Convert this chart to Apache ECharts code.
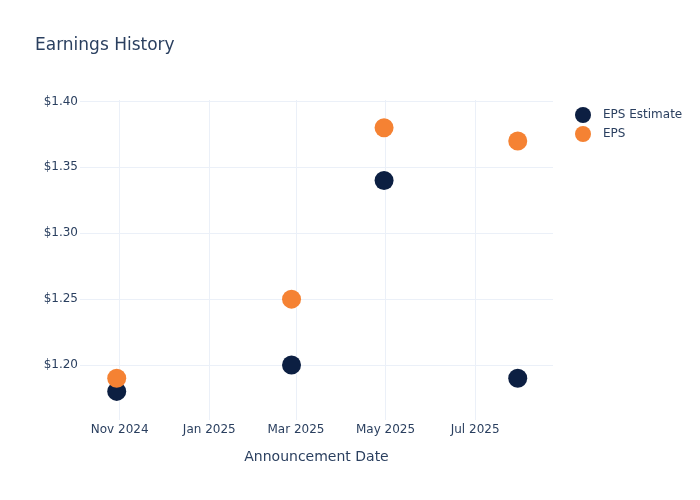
<!DOCTYPE html>
<html>
<head>
<meta charset="utf-8">
<script src="https://cdn.jsdelivr.net/npm/echarts@6/dist/echarts.min.js"></script>
<style>html,body{margin:0;padding:0;background:#fff}#c{width:700px;height:500px}</style>
</head>
<body>
<div id="c"></div>
<script>
const dates = ['2024-10-30', '2025-02-26', '2025-04-30', '2025-07-30'];
const epsEstimate = [1.18, 1.20, 1.34, 1.19];
const eps = [1.19, 1.25, 1.38, 1.37];
const xTicks = ['2024-11-01', '2025-01-01', '2025-03-01', '2025-05-01', '2025-07-01'];
const yTicks = [1.20, 1.25, 1.30, 1.35, 1.40];
const monthNames = ['Jan','Feb','Mar','Apr','May','Jun','Jul','Aug','Sep','Oct','Nov','Dec'];

const FONT = 'DejaVu Sans';
const TXT = '#2a3f5f';
const GRID = '#ebf0f8';
const ts = d => Date.parse(d + 'T00:00:00Z');

const chart = echarts.init(document.getElementById('c'), null, {renderer: 'canvas'});
chart.setOption({
  animation: false,
  backgroundColor: '#fff',
  textStyle: {fontFamily: FONT, color: TXT},
  title: {
    text: 'Earnings History', left: 30, top: 32,
    textStyle: {fontFamily: FONT, fontSize: 17, fontWeight: 'normal', color: TXT}
  },
  legend: {
    orient: 'vertical', left: 570, top: 102, itemGap: 3,
    icon: 'circle', itemWidth: 16, itemHeight: 16,
    textStyle: {fontFamily: FONT, fontSize: 12, color: TXT, padding: [0, 0, 0, 7]},
    data: ['EPS Estimate', 'EPS']
  },
  grid: {left: 80, right: 147, top: 100, bottom: 80, containLabel: false},
  xAxis: {
    type: 'value',
    min: ts('2024-10-05'),
    max: ts('2025-08-23'),
    name: 'Announcement Date', nameLocation: 'middle', nameGap: 30,
    nameTextStyle: {fontFamily: FONT, fontSize: 14, color: TXT},
    axisLine: {show: false},
    axisTick: {show: false, customValues: xTicks.map(ts)},
    axisLabel: {
      customValues: xTicks.map(ts),
      fontFamily: FONT, fontSize: 12, color: TXT, margin: 4,
      formatter: v => { const d = new Date(v); return monthNames[d.getUTCMonth()] + ' ' + d.getUTCFullYear(); }
    },
    splitLine: {show: true, lineStyle: {color: GRID, width: 1}}
  },
  yAxis: {
    type: 'value', min: 1.1583, max: 1.4011,
    axisLine: {show: false},
    axisTick: {show: false, customValues: yTicks},
    axisLabel: {
      customValues: yTicks, fontFamily: FONT, fontSize: 12, color: TXT, margin: 2,
      formatter: v => '$' + v.toFixed(2)
    },
    splitLine: {show: true, lineStyle: {color: GRID, width: 1}}
  },
  series: [
    {name: 'EPS Estimate', type: 'scatter', symbolSize: 19,
     itemStyle: {color: '#0c1f42', opacity: 1},
     data: dates.map((d, i) => [ts(d), epsEstimate[i]])},
    {name: 'EPS', type: 'scatter', symbolSize: 19,
     itemStyle: {color: '#f58233', opacity: 1},
     data: dates.map((d, i) => [ts(d), eps[i]])}
  ]
});
</script>
</body>
</html>
